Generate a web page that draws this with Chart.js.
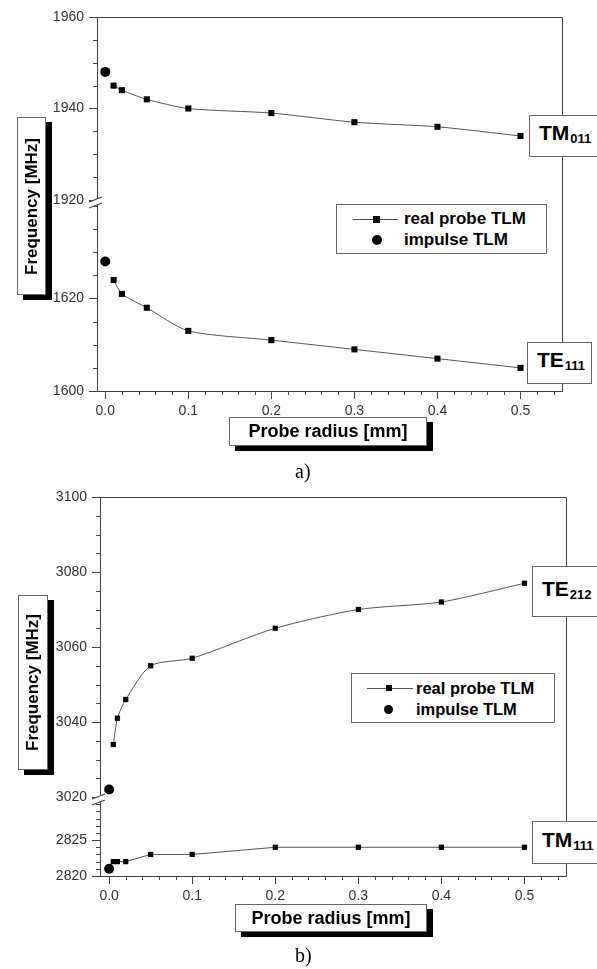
<!DOCTYPE html>
<html><head><meta charset="utf-8">
<script src="https://cdn.jsdelivr.net/npm/chart.js@4/dist/chart.umd.min.js"></script>
<style>
body{margin:0;width:597px;height:969px;position:relative;background:#fff;font-family:"Liberation Sans",Arial,sans-serif;overflow:hidden}
canvas{position:absolute;left:0}
.box{position:absolute;background:#fff;border:1px solid #666;box-sizing:border-box;color:#000;font-weight:bold}
.shadow{box-shadow:6px 5px 0 #000}
.ytitle{display:flex;align-items:center;justify-content:center;font-size:17px}
.ytitle span{writing-mode:vertical-rl;transform:rotate(180deg);white-space:nowrap}
.xtitle{display:flex;align-items:center;justify-content:center;font-size:18px}
.mode{font-size:21px;padding-left:8px;white-space:nowrap}
.mode .in{position:absolute;left:9px;top:50%;transform:translateY(-55%);line-height:24px}
.mode sub{font-size:13px;position:relative;top:3px;vertical-align:baseline;margin-left:1px}
.legend{font-size:17px}
.lline{position:absolute;height:0;border-top:1px solid #555}
.lsq{position:absolute;width:7px;height:7px;background:#000}
.ldot{position:absolute;width:10px;height:10px;border-radius:50%;background:#000}
.ltext{position:absolute;white-space:nowrap;line-height:20px}
.cap{position:absolute;font-family:"Liberation Serif","Times New Roman",serif;font-size:20px}
</style></head>
<body>
<canvas id="cA" width="597" height="470" style="top:0"></canvas>
<canvas id="cB" width="597" height="489" style="top:480px"></canvas>

<div class="box shadow ytitle" style="left:17px;top:117px;width:29px;height:178px"><span>Frequency [MHz]</span></div>
<div class="box shadow xtitle" style="left:229px;top:417px;width:198px;height:29px">Probe radius [mm]</div>
<div class="box mode" style="left:529px;top:115px;width:75px;height:42px"><div class="in">TM<sub>011</sub></div></div>
<div class="box mode" style="left:527px;top:342px;width:65px;height:42px"><div class="in">TE<sub>111</sub></div></div>
<div class="box legend" style="left:336px;top:204px;width:211px;height:50px">
  <div class="lline" style="left:16px;width:45px;top:14px"></div>
  <div class="lsq" style="left:36px;top:11px"></div>
  <div class="ltext" style="left:67px;top:4px">real probe TLM</div>
  <div class="ldot" style="left:35px;top:30px"></div>
  <div class="ltext" style="left:67px;top:25px">impulse TLM</div>
</div>
<div class="cap" style="left:295px;top:460px">a)</div>

<div class="box shadow ytitle" style="left:18px;top:595px;width:30px;height:175px"><span>Frequency [MHz]</span></div>
<div class="box shadow xtitle" style="left:235px;top:904px;width:192px;height:28px">Probe radius [mm]</div>
<div class="box mode" style="left:532px;top:566px;width:75px;height:51px"><div class="in">TE<sub>212</sub></div></div>
<div class="box mode" style="left:532px;top:821px;width:75px;height:43px"><div class="in">TM<sub>111</sub></div></div>
<div class="box legend" style="left:351px;top:673px;width:204px;height:50px;font-size:16.5px">
  <div class="lline" style="left:15px;width:46px;top:14px"></div>
  <div class="lsq" style="left:34px;top:11px;width:6px;height:6px"></div>
  <div class="ltext" style="left:64px;top:4px">real probe TLM</div>
  <div class="ldot" style="left:32px;top:31px;width:9px;height:9px"></div>
  <div class="ltext" style="left:64px;top:25px">impulse TLM</div>
</div>
<div class="cap" style="left:295px;top:944px">b)</div>

<script>
// ---- data ----
const impulseRadius = [0];
const radiusA = [0.01, 0.02, 0.05, 0.1, 0.2, 0.3, 0.4, 0.5];
const tm011Real = [1945, 1944, 1942, 1940, 1939, 1937, 1936, 1934];
const tm011Impulse = [1948];
const te111Real = [1624, 1621, 1618, 1613, 1611, 1609, 1607, 1605];
const te111Impulse = [1628];

const radiusB = [0.005, 0.01, 0.02, 0.05, 0.1, 0.2, 0.3, 0.4, 0.5];
const te212Real = [3034, 3041, 3046, 3055, 3057, 3065, 3070, 3072, 3077];
const te212Impulse = [3022];
const tm111Real = [2822, 2822, 2822, 2823, 2823, 2824, 2824, 2824, 2824];
const tm111Impulse = [2821];

const xTicks = [0, 0.1, 0.2, 0.3, 0.4, 0.5];
const yTicksATop = [1920, 1940, 1960];
const yTicksABot = [1600, 1620];
const yTicksBTop = [3020, 3040, 3060, 3080, 3100];
const yTicksBBot = [2820, 2825];

// ---- helpers ----
const AX = '#444';
const pts = (xs, ys) => xs.map((x, i) => ({x, y: ys[i]}));

const framePlugin = {
  id: 'frame',
  afterDraw(chart, args, opts) {
    const {ctx, chartArea: a, scales} = chart;
    ctx.save();
    ctx.strokeStyle = AX; ctx.lineWidth = 1;
    ctx.beginPath();
    ctx.moveTo(a.left, Math.round(a.top) + 0.5);
    ctx.lineTo(Math.round(a.right) + 0.5, Math.round(a.top) + 0.5);
    ctx.lineTo(Math.round(a.right) + 0.5, a.bottom);
    ctx.stroke();
    // minor ticks
    for (const [id, step] of Object.entries(opts.minor)) {
      const s = scales[id];
      const majors = s.ticks.map(t => t.value);
      const k0 = Math.ceil(s.min / step - 1e-6), k1 = Math.floor(s.max / step + 1e-6);
      ctx.beginPath();
      for (let k = k0; k <= k1; k++) {
        const v = k * step;
        if (majors.some(m => Math.abs(m - v) < step / 10)) continue;
        if (opts.minorMax && opts.minorMax[id] !== undefined && v > opts.minorMax[id] + 1e-9) continue;
        const p = Math.round(s.getPixelForValue(v)) + 0.5;
        if (s.isHorizontal()) { ctx.moveTo(p, a.bottom); ctx.lineTo(p, a.bottom + 4); }
        else { ctx.moveTo(a.left - 4, p); ctx.lineTo(a.left, p); }
      }
      ctx.stroke();
    }
    // break marks
    const sb = scales[opts.breakScale];
    const x = a.left, y = sb.top;
    ctx.fillStyle = '#fff';
    ctx.beginPath();
    ctx.moveTo(x - 8, y + 2); ctx.lineTo(x + 5, y - 3); ctx.lineTo(x + 5, y + 3); ctx.lineTo(x - 8, y + 8); ctx.closePath();
    ctx.fill();
    ctx.lineWidth = 1.3;
    ctx.beginPath();
    ctx.moveTo(x - 8, y + 2); ctx.lineTo(x + 5, y - 3);
    ctx.moveTo(x - 8, y + 8); ctx.lineTo(x + 5, y + 3);
    ctx.stroke();
    ctx.restore();
  }
};

function lineDS(data, yAxisID, r, smooth) {
  return {label: 'real probe TLM', data, yAxisID, borderColor: '#555', borderWidth: 1,
    pointStyle: 'rect', pointRadius: r, pointBackgroundColor: '#000', pointBorderColor: '#000', pointBorderWidth: 0,
    tension: smooth ? 0.25 : 0, showLine: true};
}
function dotDS(data, yAxisID) {
  return {label: 'impulse TLM', data, yAxisID, showLine: false, pointStyle: 'circle', pointRadius: 5,
    pointBackgroundColor: '#000', pointBorderColor: '#000', pointBorderWidth: 0};
}
function yScale(min, max, ticks, weight) {
  return {type: 'linear', position: 'left', stack: 'f', stackWeight: weight, min, max,
    afterBuildTicks: s => { s.ticks = ticks.map(v => ({value: v})); },
    afterFit: s => { s.width = 45; },
    border: {color: AX, width: 1},
    grid: {drawOnChartArea: false, drawTicks: true, tickLength: 8, color: AX},
    ticks: {autoSkip: false, padding: 5, color: '#333', font: {family: 'Liberation Sans', size: 14},
      callback: v => String(v)}};
}
function xScale(min, max) {
  return {type: 'linear', position: 'bottom', min, max,
    afterBuildTicks: s => { s.ticks = xTicks.map(v => ({value: v})); },
    afterFit: s => { s.height = 30; },
    border: {color: AX, width: 1},
    grid: {drawOnChartArea: false, drawTicks: true, tickLength: 8, color: AX},
    ticks: {autoSkip: false, padding: 4, color: '#333', font: {family: 'Liberation Sans', size: 14},
      callback: v => Number(v).toFixed(1)}};
}
const common = {responsive: false, animation: false, devicePixelRatio: 1,
  plugins: {legend: {display: false}, tooltip: {enabled: false}}};

new Chart(document.getElementById('cA'), {
  type: 'scatter',
  data: {datasets: [
    lineDS(pts(radiusA, tm011Real), 'yTop', 4.3, true),
    dotDS(pts(impulseRadius, tm011Impulse), 'yTop'),
    lineDS(pts(radiusA, te111Real), 'yBot', 4.3, true),
    dotDS(pts(impulseRadius, te111Impulse), 'yBot')
  ]},
  options: {...common,
    layout: {padding: {left: 52, right: 35, top: 17, bottom: 49}},
    scales: {
      x: xScale(-0.01, 0.55),
      yBot: yScale(1600, 1641.3, yTicksABot, 191),
      yTop: yScale(1920, 1960, yTicksATop, 183)
    },
    plugins: {...common.plugins, frame: {minor: {x: 0.02, yTop: 5, yBot: 5}, minorMax: {yBot: 1640}, breakScale: 'yBot'}}
  },
  plugins: [framePlugin]
});

new Chart(document.getElementById('cB'), {
  type: 'scatter',
  data: {datasets: [
    lineDS(pts(radiusB, te212Real), 'yTop', 3.7, true),
    dotDS(pts(impulseRadius, te212Impulse), 'yTop'),
    lineDS(pts(radiusB, tm111Real), 'yBot', 3.7, false),
    dotDS(pts(impulseRadius, tm111Impulse), 'yBot')
  ]},
  options: {...common,
    layout: {padding: {left: 55, right: 31, top: 17, bottom: 63}},
    scales: {
      x: xScale(-0.011, 0.55),
      yBot: yScale(2820, 2831, yTicksBBot, 79),
      yTop: yScale(3020, 3100, yTicksBTop, 300)
    },
    plugins: {...common.plugins, frame: {minor: {x: 0.02, yTop: 5, yBot: 1}, minorMax: {yBot: 2830}, breakScale: 'yBot'}}
  },
  plugins: [framePlugin]
});
</script>
</body></html>
